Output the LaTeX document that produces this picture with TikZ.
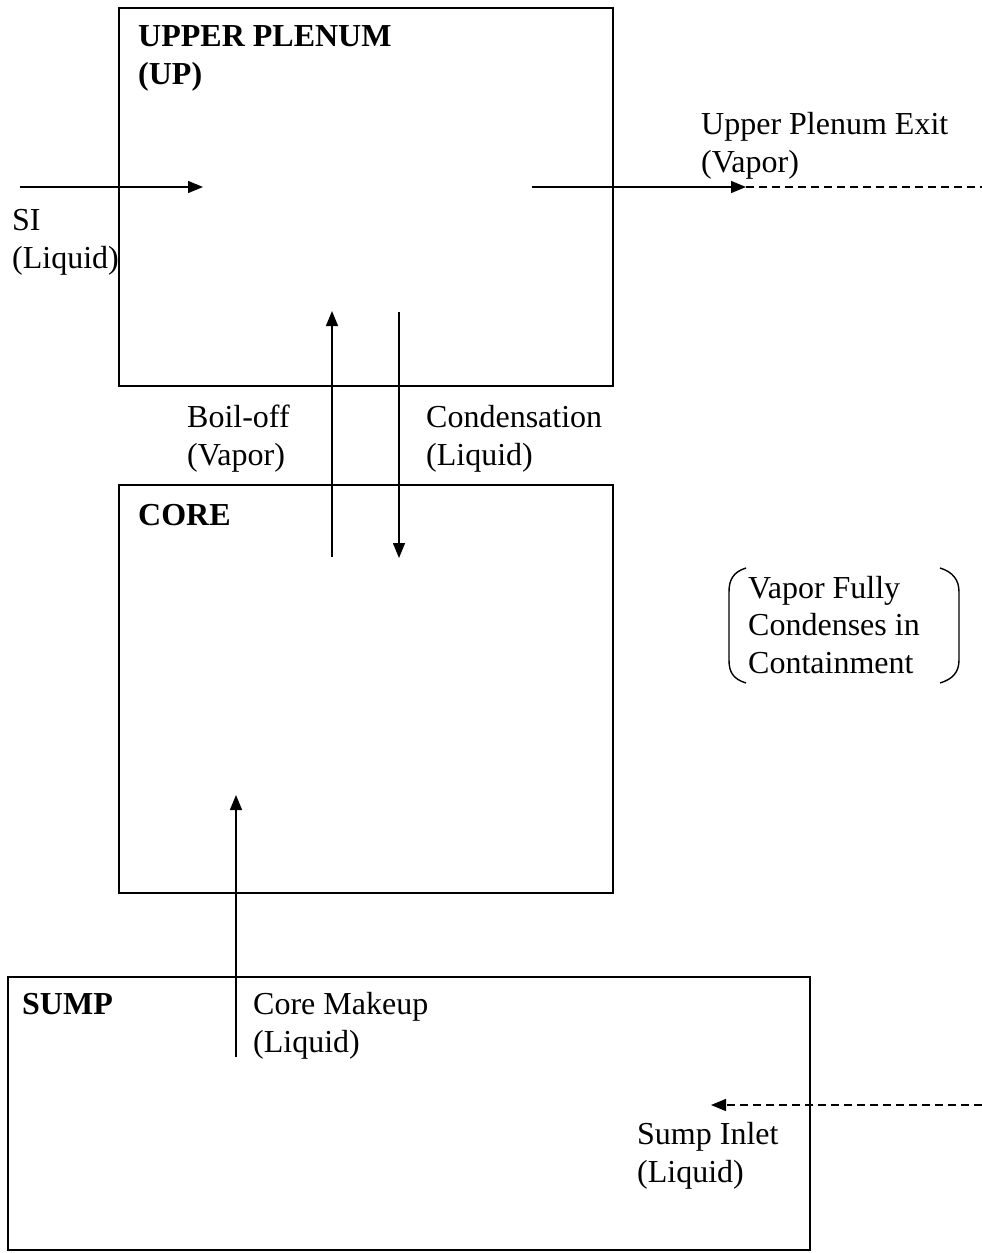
\documentclass[tikz,border=0pt]{standalone}
\usepackage{fontspec}
\setmainfont{Liberation Serif}
\usetikzlibrary{arrows.meta}
\begin{document}
\begin{tikzpicture}[x=1pt,y=-1pt,
  box/.style={draw,line width=1.5pt,minimum width=#1,inner sep=0pt,outer sep=0pt},
  lbl/.style={anchor=base west,inner sep=0pt,align=left,font=\fontsize{32}{37.5}\selectfont},
  blbl/.style={lbl,font=\fontsize{32}{37.5}\selectfont\bfseries},
  flow/.style={line width=1.4pt,-{Triangle[length=15pt,width=12pt]}},
  dflow/.style={line width=1.4pt,dash pattern=on 8pt off 5pt}]
\useasboundingbox (0,0) rectangle (982,1253);
% boxes
\node[box=494pt,minimum height=378pt] (up) at (366,197) {};
\node[box=494pt,minimum height=408pt] (core) at (366,689) {};
\node[box=802pt,minimum height=273pt] (sump) at (409,1113.5) {};
% titles (anchor = baseline of last line)
\node[blbl] (upt) at (138,84) {UPPER PLENUM\\(UP)};
\node[blbl] (coret) at (138,525) {CORE};
\node[blbl] (sumpt) at (22,1014) {SUMP};
% labels
\node[lbl] (sil) at (12,268) {SI\\(Liquid)};
\node[lbl] (upel) at (701,172) {Upper Plenum Exit\\(Vapor)};
\node[lbl] (bol) at (187,465) {Boil-off\\(Vapor)};
\node[lbl] (cdl) at (426,465) {Condensation\\(Liquid)};
\node[lbl] (cml) at (253,1052) {Core Makeup\\(Liquid)};
\node[lbl] (sil2) at (637,1182) {Sump Inlet\\(Liquid)};
\node[lbl] (vfc) at (748,673) {Vapor Fully\\Condenses in\\Containment};
% coordinates
\coordinate (si0) at (20,187);
\coordinate (si1) at (203,187);
\coordinate (ex0) at (532,187);
\coordinate (ex1) at (746,187);
\coordinate (ex2) at (982,187);
\coordinate (bo0) at (332,557);
\coordinate (bo1) at (332,311);
\coordinate (cd0) at (399,312);
\coordinate (cd1) at (399,558);
\coordinate (cm0) at (236,1057);
\coordinate (cm1) at (236,795);
\coordinate (in0) at (982,1105);
\coordinate (in1) at (711,1105);
% connectors
\draw[flow] (si0) -- (si1);
\draw[flow] (ex0) -- (ex1);
\draw[dflow] (ex1) -- (ex2);
\draw[flow] (bo0) -- (bo1);
\draw[flow] (cd0) -- (cd1);
\draw[flow] (cm0) -- (cm1);
\draw[dflow] (in0) -- ([xshift=12pt]in1);
\draw[flow] ([xshift=13pt]in1) -- (in1);
% parentheses
\draw[line width=1.4pt] (746,568) .. controls (733,572) and (729,580) .. (729,592)
  -- (729,660) .. controls (729,672) and (733,679) .. (746,683);
\draw[line width=1.4pt] (940,568) .. controls (953,572) and (959,580) .. (959,592)
  -- (959,660) .. controls (959,672) and (953,679) .. (940,683);
\end{tikzpicture}
\end{document}
